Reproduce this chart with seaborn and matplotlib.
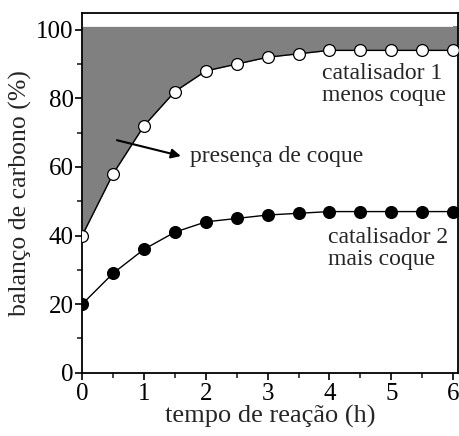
import matplotlib
matplotlib.use("Agg")
import matplotlib.pyplot as plt
import numpy as np
import pandas as pd
import seaborn as sns
from matplotlib.ticker import MultipleLocator

# tempo de reação (h)
tempo = [0, 0.5, 1, 1.5, 2, 2.5, 3, 3.5, 4, 4.5, 5, 5.5, 6]
# balanço de carbono (%)
cat1 = [40, 58, 72, 82, 88, 90, 92, 93, 94, 94, 94, 94, 94]
cat2 = [20, 29, 36, 41, 44, 45, 46, 46.5, 47, 47, 47, 47, 47]
topo_coque = 101

df = pd.DataFrame({"tempo": tempo, "cat1": cat1, "cat2": cat2})

sns.set_theme(style="ticks")
plt.rcParams["font.family"] = ["Liberation Serif", "DejaVu Serif"]

fig = plt.figure(figsize=(4.59, 4.36), dpi=100)
ax = fig.add_axes([0.179, 0.145, 0.819, 0.826])
xmax = 6.08

# região de coque (estende até a borda direita)
ax.fill_between(df["tempo"], df["cat1"], topo_coque, color="#808080", lw=0, zorder=1)
ax.fill_between([tempo[-1], xmax], [cat1[-1]] * 2, topo_coque, color="#808080", lw=0, zorder=1)
ax.plot([tempo[-1], xmax], [cat1[-1]] * 2, color="black", lw=1.0, zorder=2)
ax.plot([tempo[-1], xmax], [cat2[-1]] * 2, color="black", lw=1.0, zorder=2)

for col, face in [("cat1", "white"), ("cat2", "black")]:
    sns.lineplot(data=df, x="tempo", y=col, ax=ax, color="black", lw=1.0,
                 marker="o", markersize=8.5, markerfacecolor=face,
                 markeredgecolor="black", markeredgewidth=0.9, zorder=3)

ax.set_xlim(0, xmax)
ax.set_ylim(0, 105)
ax.xaxis.set_major_locator(MultipleLocator(1))
ax.xaxis.set_minor_locator(MultipleLocator(0.5))
ax.yaxis.set_major_locator(MultipleLocator(20))
ax.yaxis.set_minor_locator(MultipleLocator(10))
ax.tick_params(which="major", direction="out", length=5, width=1.2, labelsize=18,
               colors="black", pad=1)
ax.tick_params(axis="x", which="major", pad=2)
ax.tick_params(which="minor", direction="out", length=3.5, width=1.2)
for s in ax.spines.values():
    s.set_linewidth(1.3)
    s.set_color("black")

ax.set_xlabel("tempo de reação (h)", fontsize=19, labelpad=0)
ax.set_ylabel("balanço de carbono (%)", fontsize=18.5, labelpad=3)

ax.annotate("", xy=(1.64, 63), xytext=(0.52, 68),
            arrowprops=dict(arrowstyle="-|>", color="black", lw=1.5, mutation_scale=14))
ax.text(1.75, 63, "presença de coque", fontsize=17, va="center", ha="left")
ax.text(3.88, 84, "catalisador 1\nmenos coque", fontsize=17, va="center", ha="left",
        linespacing=1.05)
ax.text(3.97, 36.3, "catalisador 2\nmais coque", fontsize=17, va="center", ha="left",
        linespacing=1.05)

fig.savefig("out.png", dpi=100)
